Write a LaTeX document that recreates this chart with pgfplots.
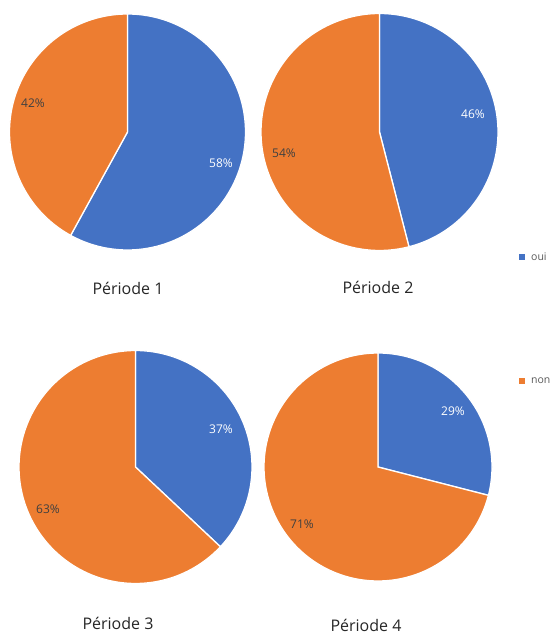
\documentclass[border=0pt]{standalone}
\usepackage{pgfplots}
\pgfplotsset{compat=1.18}
\usepackage{fontspec}
\setmainfont{Open Sans}
\definecolor{oui}{HTML}{4472C4}
\definecolor{non}{HTML}{ED7D31}
\definecolor{lbl}{HTML}{404040}
\definecolor{leg}{HTML}{595959}
% #1 cx, #2 cy, #3 radius, #4 share of "oui" (%)
\newcommand{\pie}[4]{%
  \addplot[fill=oui, draw=white, line width=1.3bp, domain={90-3.6*#4}:90, samples=150, variable=\t]
    ({#1+#3*cos(\t)},{#2+#3*sin(\t)}) -- (axis cs:#1,#2) -- cycle;
  \addplot[fill=non, draw=white, line width=1.3bp, domain=-270:{90-3.6*#4}, samples=150, variable=\t]
    ({#1+#3*cos(\t)},{#2+#3*sin(\t)}) -- (axis cs:#1,#2) -- cycle;
}
\begin{document}
\begin{tikzpicture}
\begin{axis}[at={(0,0)}, anchor=south west, width=551bp, height=635bp, scale only axis,
  xmin=0, xmax=551, ymin=0, ymax=635, hide axis, clip=false]
% Période 1 : oui 58, non 42
\pie{127.5}{503}{118}{58}
% Période 2 : oui 46, non 54
\pie{379.5}{503}{118.5}{46}
% Période 3 : oui 37, non 63
\pie{135.5}{168}{116.5}{37}
% Période 4 : oui 29, non 71
\pie{378}{168}{114}{29}
% legend markers
\addplot[only marks, mark=square*, mark size=2.4, color=oui] coordinates {(522,378)};
\addplot[only marks, mark=square*, mark size=2.4, color=non] coordinates {(522,254)};
% percentage labels
\begin{scope}[font=\fontsize{12bp}{14bp}\selectfont]
\node[text=lbl] at (axis cs:33,532) {42\%};
\node[text=white] at (axis cs:221,472) {58\%};
\node[text=white] at (axis cs:473,521) {46\%};
\node[text=lbl] at (axis cs:284,482) {54\%};
\node[text=white] at (axis cs:221,206) {37\%};
\node[text=lbl] at (axis cs:48,126) {63\%};
\node[text=white] at (axis cs:453,224) {29\%};
\node[text=lbl] at (axis cs:302,111) {71\%};
\end{scope}
% titles
\begin{scope}[font=\fontsize{16bp}{19bp}\selectfont, text=black!85]
\node at (axis cs:128,347) {Période 1};
\node at (axis cs:378,348) {Période 2};
\node at (axis cs:118,12) {Période 3};
\node at (axis cs:366,10) {Période 4};
\end{scope}
% legend texts
\begin{scope}[font=\fontsize{10.5bp}{12bp}\selectfont, text=leg]
\node[anchor=west, inner sep=0pt] at (axis cs:531,378) {oui};
\node[anchor=west, inner sep=0pt] at (axis cs:531,254) {non};
\end{scope}
\end{axis}
\pgfresetboundingbox
\useasboundingbox (0,0) rectangle (551bp,635bp);
\end{tikzpicture}
\end{document}
